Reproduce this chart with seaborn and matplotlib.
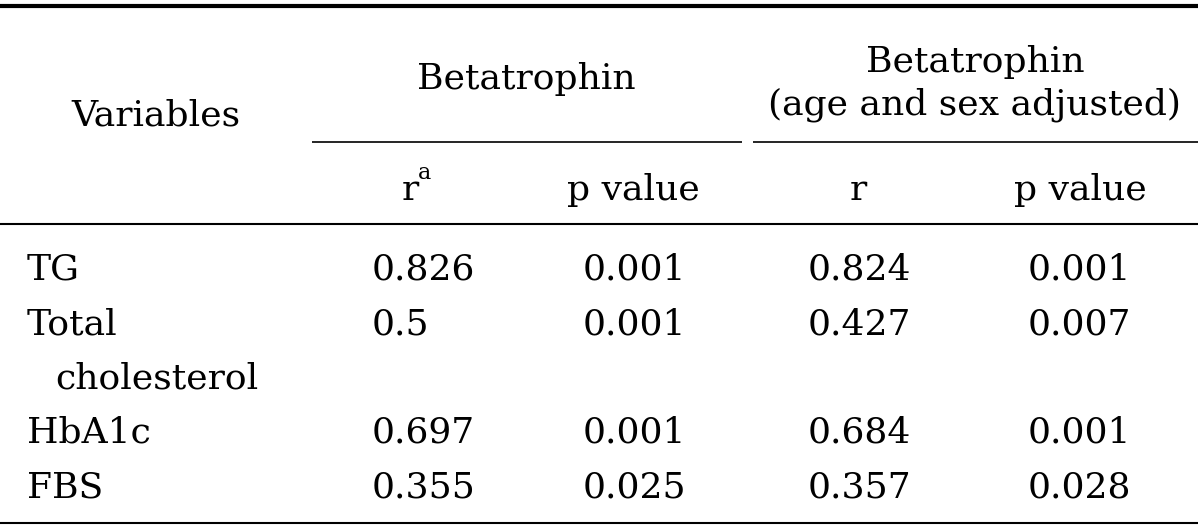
import matplotlib
matplotlib.use("Agg")
import matplotlib.pyplot as plt
import seaborn as sns

# ---- data ----
variables = ["TG", "Total cholesterol", "HbA1c", "FBS"]
r_values = ["0.826", "0.5", "0.697", "0.355"]
p_values = ["0.001", "0.001", "0.001", "0.025"]
r_adjusted = ["0.824", "0.427", "0.684", "0.357"]
p_adjusted = ["0.001", "0.007", "0.001", "0.028"]
group_titles = ["Betatrophin", "Betatrophin\n(age and sex adjusted)"]
sub_headers = ["r", "p value", "r", "p value"]
first_header = "Variables"
footnote_mark = "a"

sns.set_theme(style="white")
plt.rcParams["font.family"] = ["DejaVu Serif"]

W, H = 1200, 531
fig = plt.figure(figsize=(W / 100, H / 100), dpi=100)
ax = fig.add_axes([0, 0, 1, 1])
ax.set_xlim(0, W)
ax.set_ylim(H, 0)
ax.axis("off")

fs = 26
col = "black"

# rules
ax.hlines(6, 0, 1198, color=col, lw=3.0)
ax.hlines(142, 312, 742, color=col, lw=1.2)
ax.hlines(142, 753, 1198, color=col, lw=1.2)
ax.hlines(224, 0, 1198, color=col, lw=1.5)
ax.hlines(523, 0, 1198, color=col, lw=1.5)

# header
ax.text(156, 115, first_header, ha="center", va="center", fontsize=fs, color=col)
ax.text(526, 89, group_titles[0], ha="center", va="baseline", fontsize=fs, color=col)
t1, t2 = group_titles[1].split("\n")
ax.text(975, 72, t1, ha="center", va="baseline", fontsize=fs, color=col)
ax.text(975, 115, t2, ha="center", va="baseline", fontsize=fs, color=col)

sub_x = [410, 633, 858, 1080]
for i, (x, s) in enumerate(zip(sub_x, sub_headers)):
    ax.text(x, 200, s, ha="center", va="baseline", fontsize=fs, color=col)
ax.text(418, 179, footnote_mark, ha="left", va="baseline", fontsize=16, color=col)

# body
col_x = [372, 583, 808, 1028]
line_h = 54.25
base0 = 280
line = 0
for v, a, b, c, d in zip(variables, r_values, p_values, r_adjusted, p_adjusted):
    y = base0 + line * line_h
    if len(v) > 12 and " " in v:
        first, rest = v.split(" ", 1)
        ax.text(27, y, first, ha="left", va="baseline", fontsize=fs, color=col)
        ax.text(55, y + line_h, rest, ha="left", va="baseline", fontsize=fs, color=col)
        nlines = 2
    else:
        ax.text(27, y, v, ha="left", va="baseline", fontsize=fs, color=col)
        nlines = 1
    for x, s in zip(col_x, [a, b, c, d]):
        ax.text(x, y, s, ha="left", va="baseline", fontsize=fs, color=col)
    line += nlines

fig.savefig("out.png", dpi=100, facecolor="white")
